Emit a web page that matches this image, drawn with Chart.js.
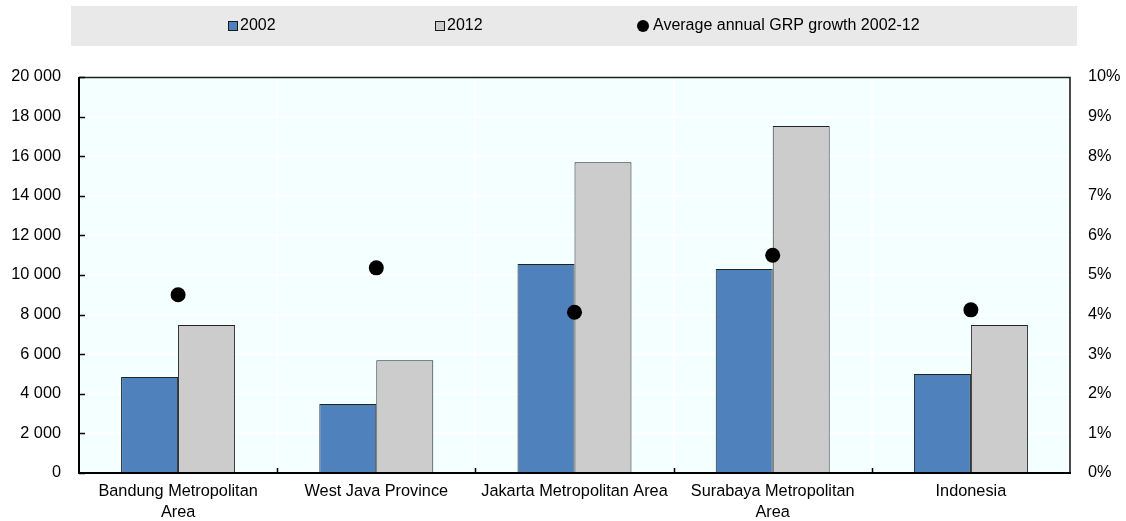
<!DOCTYPE html>
<html>
<head>
<meta charset="utf-8">
<script src="https://cdn.jsdelivr.net/npm/chart.js@4/dist/chart.umd.min.js"></script>
<style>
  html, body { margin: 0; padding: 0; background: #ffffff; }
  #wrap { width: 1126px; height: 521px; position: relative; }
</style>
</head>
<body>
<div id="wrap"><canvas id="c" width="1126" height="521"></canvas></div>
<script>
// GRP per capita by area, and average annual growth over the decade
const categories = [
  ["Bandung Metropolitan", "Area"],
  "West Java Province",
  "Jakarta Metropolitan Area",
  ["Surabaya Metropolitan", "Area"],
  "Indonesia"
];
const values2002 = [4850, 3480, 10550, 10300, 5000];
const values2012 = [7470, 5700, 15700, 17530, 7470];
const growthPct = [4.5, 5.18, 4.06, 5.5, 4.12];

const leftTicks = [0, 2000, 4000, 6000, 8000, 10000, 12000, 14000, 16000, 18000, 20000];
const rightTicks = [0, 1, 2, 3, 4, 5, 6, 7, 8, 9, 10];

const seriesNames = ["2002", "2012", "Average annual GRP growth 2002-12"];

const FONT = "'Liberation Sans', Arial, sans-serif";
const BLUE = "#4f81bd";
const GREY = "#cccccc";

function fmtThousands(v) {
  return String(v).replace(/\B(?=(\d{3})+(?!\d))/g, " ");
}

// Plot background, frame, inward tick marks and the legend band
const decorations = {
  id: "decorations",
  beforeDraw(chart) {
    const { ctx, chartArea: a } = chart;
    ctx.save();
    ctx.fillStyle = "#f4ffff";
    ctx.fillRect(a.left, a.top, a.right - a.left, a.bottom - a.top);
    ctx.restore();
  },
  afterDraw(chart) {
    const { ctx, chartArea: a } = chart;
    const y = chart.scales.y, x = chart.scales.x;
    ctx.save();
    // frame on top and right
    ctx.strokeStyle = "#1e1e1e";
    ctx.lineWidth = 1.6;
    ctx.beginPath();
    ctx.moveTo(a.left, a.top + 0.5);
    ctx.lineTo(a.right, a.top + 0.5);
    ctx.lineTo(a.right, a.bottom);
    ctx.stroke();
    // heavier left and bottom axis lines
    ctx.strokeStyle = "#000000";
    ctx.lineWidth = 2;
    ctx.beginPath();
    ctx.moveTo(a.left, a.top);
    ctx.lineTo(a.left, a.bottom);
    ctx.lineTo(a.right + 1, a.bottom);
    ctx.stroke();
    // inward ticks on the value axis
    ctx.lineWidth = 1.5;
    leftTicks.forEach(v => {
      const py = Math.round(y.getPixelForValue(v)) + 0.5;
      ctx.beginPath();
      ctx.moveTo(a.left, py);
      ctx.lineTo(a.left + 6, py);
      ctx.stroke();
    });
    // inward ticks between categories
    for (let i = 1; i < categories.length; i++) {
      const px = Math.round((x.getPixelForValue(i - 1) + x.getPixelForValue(i)) / 2) + 0.5;
      ctx.beginPath();
      ctx.moveTo(px, a.bottom);
      ctx.lineTo(px, a.bottom - 5);
      ctx.stroke();
    }
    // legend band
    ctx.fillStyle = "#e9e9e9";
    ctx.fillRect(71, 6, 1006, 40);
    ctx.font = "16px " + FONT;
    ctx.textBaseline = "middle";
    const ly = 26;
    ctx.strokeStyle = "#1a1a1a";
    ctx.lineWidth = 1;
    // 2002
    ctx.fillStyle = BLUE;
    ctx.fillRect(228, 21, 10, 10);
    ctx.strokeRect(228.5, 21.5, 9, 9);
    ctx.fillStyle = "#000";
    ctx.fillText(seriesNames[0], 240, ly);
    // 2012
    ctx.fillStyle = GREY;
    ctx.fillRect(435, 21, 10, 10);
    ctx.strokeRect(435.5, 21.5, 9, 9);
    ctx.fillStyle = "#000";
    ctx.fillText(seriesNames[1], 447, ly);
    // growth marker
    ctx.beginPath();
    ctx.arc(643, 26, 6, 0, Math.PI * 2);
    ctx.fill();
    ctx.fillText(seriesNames[2], 653, ly);
    ctx.restore();
  }
};

new Chart(document.getElementById("c"), {
  data: {
    labels: categories,
    datasets: [
      {
        type: "line",
        label: seriesNames[2],
        data: growthPct,
        yAxisID: "y1",
        showLine: false,
        pointRadius: 7.5,
        pointHoverRadius: 7.5,
        pointBackgroundColor: "#000000",
        pointBorderWidth: 0,
        order: 0
      },
      {
        type: "bar",
        label: seriesNames[0],
        data: values2002,
        yAxisID: "y",
        backgroundColor: BLUE,
        borderColor: "#222222",
        borderWidth: 1,
        borderSkipped: "bottom",
        categoryPercentage: 0.575,
        barPercentage: 1.0,
        order: 1
      },
      {
        type: "bar",
        label: seriesNames[1],
        data: values2012,
        yAxisID: "y",
        backgroundColor: GREY,
        borderColor: "#222222",
        borderWidth: 1,
        borderSkipped: "bottom",
        categoryPercentage: 0.575,
        barPercentage: 1.0,
        order: 1
      }
    ]
  },
  options: {
    responsive: false,
    animation: false,
    devicePixelRatio: 1,
    layout: { padding: { top: 77, left: 0, right: 0, bottom: 0 } },
    plugins: {
      legend: { display: false },
      tooltip: { enabled: false }
    },
    scales: {
      x: {
        offset: true,
        grid: { offset: true, color: "#ffffff", lineWidth: 2, drawTicks: false },
        border: { display: false },
        ticks: {
          color: "#000000",
          font: { family: FONT, size: 16.3, lineHeight: 1.3 },
          padding: 8,
          maxRotation: 0,
          autoSkip: false
        },
        afterFit(s) { s.height = 48; }
      },
      y: {
        position: "left",
        min: 0,
        max: 20000,
        afterBuildTicks(s) { s.ticks = leftTicks.map(v => ({ value: v })); },
        grid: { color: "#ffffff", lineWidth: 2, drawTicks: false },
        border: { display: false },
        ticks: {
          color: "#000000",
          font: { family: FONT, size: 16.3 },
          padding: 18,
          callback: v => fmtThousands(v)
        },
        afterFit(s) { s.width = 79; }
      },
      y1: {
        position: "right",
        min: 0,
        max: 10,
        afterBuildTicks(s) { s.ticks = rightTicks.map(v => ({ value: v })); },
        grid: { drawOnChartArea: false, drawTicks: false },
        border: { display: false },
        ticks: {
          color: "#000000",
          font: { family: FONT, size: 16.3 },
          padding: 18,
          callback: v => v + "%"
        },
        afterFit(s) { s.width = 56; }
      }
    }
  },
  plugins: [decorations]
});
</script>
</body>
</html>
